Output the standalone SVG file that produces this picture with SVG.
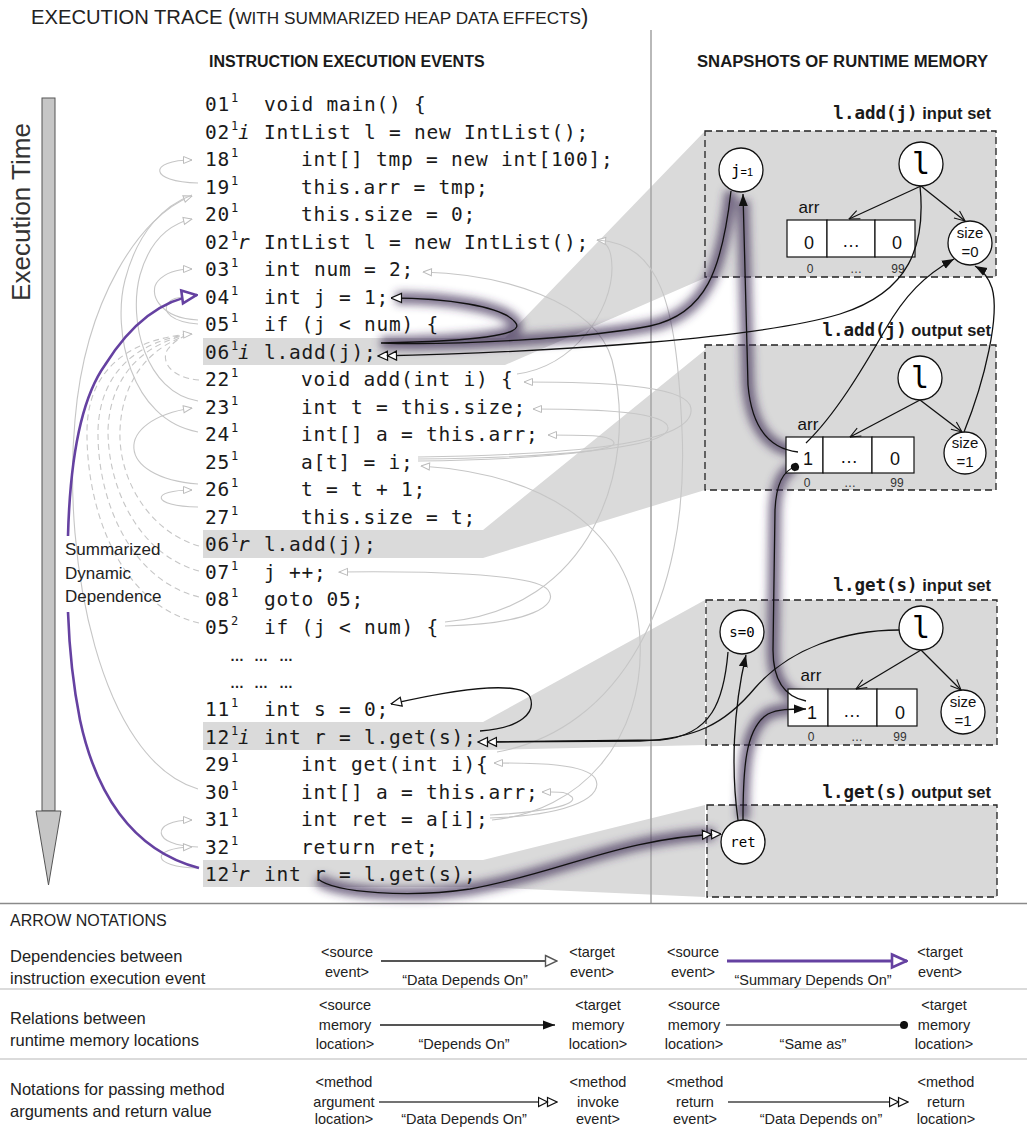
<svg xmlns="http://www.w3.org/2000/svg" width="1027" height="1129" viewBox="0 0 1027 1129">
<style>
.code{font-family:"DejaVu Sans Mono","Liberation Mono",monospace;font-size:19.5px;letter-spacing:0.76px;fill:#1a1a1a}
.sup{font-family:"DejaVu Sans Mono",monospace;font-size:12px;fill:#1a1a1a}
.suf{font-family:"DejaVu Sans Mono",monospace;font-size:19.5px;font-style:italic;fill:#1a1a1a}
.garc{fill:none;stroke:#c6c6c6;stroke-width:1.1}
.gdash{fill:none;stroke:#c6c6c6;stroke-width:1.1;stroke-dasharray:6 4}
.blk{fill:none;stroke:#111;stroke-width:1.3}
.glow{fill:none;stroke:#3f2d57;stroke-width:12;stroke-opacity:0.7}
.wedge{fill:#dadada}
.box{fill:#d9d9d9;stroke:#222;stroke-width:1.3;stroke-dasharray:7 4}
.node{fill:#fff;stroke:#111;stroke-width:1.3}
.cell{fill:#fff;stroke:#111;stroke-width:1.2}
.lbl{font-family:"Liberation Sans",Arial,sans-serif;font-weight:bold;font-size:16.5px;fill:#1a1a1a}
.lblm{font-family:"DejaVu Sans Mono",monospace;font-weight:bold;font-size:17.5px}
.val{font-family:"Liberation Sans",Arial,sans-serif;font-size:18px;fill:#111;text-anchor:middle}
.idx{font-family:"Liberation Sans",Arial,sans-serif;font-size:12px;fill:#333;text-anchor:middle}
.arr{font-family:"Liberation Sans",Arial,sans-serif;font-size:17px;fill:#111;text-anchor:middle}
.sz{font-family:"Liberation Sans",Arial,sans-serif;font-size:15px;fill:#111;text-anchor:middle}
.leg{font-family:"Liberation Sans",Arial,sans-serif;font-size:14.5px;fill:#222;text-anchor:middle}
.legl{font-family:"Liberation Sans",Arial,sans-serif;font-size:16.5px;fill:#222}
.sans{font-family:"Liberation Sans",Arial,sans-serif}
</style>
<defs>
<filter id="blur" filterUnits="userSpaceOnUse" x="0" y="0" width="1027" height="1129"><feGaussianBlur stdDeviation="4"/></filter>
<marker id="gTri" viewBox="0 0 10 10" refX="9.5" refY="5" markerWidth="10" markerHeight="10" orient="auto" markerUnits="userSpaceOnUse"><path d="M1,1.5 L9.5,5 L1,8.5 z" fill="#fff" stroke="#bcbcbc" stroke-width="1"/></marker>
<marker id="bTri" viewBox="0 0 12 12" refX="11.5" refY="6" markerWidth="12" markerHeight="12" orient="auto" markerUnits="userSpaceOnUse"><path d="M1,1.5 L11.5,6 L1,10.5 z" fill="#fff" stroke="#111" stroke-width="1.2"/></marker>
<marker id="dTri" viewBox="0 0 20 12" refX="19.5" refY="6" markerWidth="20" markerHeight="12" orient="auto" markerUnits="userSpaceOnUse"><path d="M1,1.5 L10,6 L1,10.5 z M10,1.5 L19.5,6 L10,10.5 z" fill="#fff" stroke="#111" stroke-width="1.2"/></marker>
<marker id="fTri" viewBox="0 0 12 10" refX="12" refY="5" markerWidth="12" markerHeight="10" orient="auto" markerUnits="userSpaceOnUse"><path d="M0,0.5 L12,5 L0,9.5 z" fill="#111"/></marker>
<marker id="vHead" viewBox="0 0 12 12" refX="11.5" refY="6" markerWidth="12" markerHeight="12" orient="auto" markerUnits="userSpaceOnUse"><path d="M1,1.5 L11.5,6 L1,10.5" fill="none" stroke="#111" stroke-width="1.1"/></marker>
<marker id="dot" viewBox="0 0 10 10" refX="5" refY="5" markerWidth="9" markerHeight="9" orient="auto" markerUnits="userSpaceOnUse"><circle cx="5" cy="5" r="4.5" fill="#111"/></marker>
<marker id="pTri" viewBox="0 0 18 18" refX="17" refY="9" markerWidth="18" markerHeight="18" orient="auto" markerUnits="userSpaceOnUse"><path d="M2,2.5 L16.5,9 L2,15.5 z" fill="#fff" stroke="#6541a1" stroke-width="2.6" stroke-linejoin="miter"/></marker>
<marker id="lTri" viewBox="0 0 14 14" refX="13" refY="7" markerWidth="14" markerHeight="14" orient="auto" markerUnits="userSpaceOnUse"><path d="M1.5,1.5 L13,7 L1.5,12.5 z" fill="#fff" stroke="#555" stroke-width="1.4"/></marker>
</defs>

<rect x="0" y="0" width="1027" height="1129" fill="#fff"/>

<!-- title -->
<g id="title">
<text class="sans" x="31" y="24" fill="#222"><tspan font-size="20.2">EXECUTION TRACE </tspan><tspan font-size="22">(</tspan><tspan font-size="17.2">WITH SUMMARIZED HEAP DATA EFFECTS</tspan><tspan font-size="22">)</tspan></text>
</g>
<g id="headers" class="sans" font-weight="bold" font-size="16" fill="#1a1a1a">
<text x="209" y="67">INSTRUCTION EXECUTION EVENTS</text>
<text x="697" y="67" textLength="291" lengthAdjust="spacingAndGlyphs">SNAPSHOTS OF RUNTIME MEMORY</text>
</g>

<!-- highlight projections -->
<g id="highlights">
<polygon class="wedge" points="203,338 505,338 705,131 705,278 505,365 203,365"/>
<polygon class="wedge" points="203,530 483,530 705,350 705,490 483,558 203,558"/>
<polygon class="wedge" points="203,722 483,722 705,600 705,745 483,750 203,750"/>
<polygon class="wedge" points="203,860 483,860 705,805 705,897 483,887 203,887"/>
</g>

<!-- frame lines -->
<g id="frame" fill="none">
<line x1="651" y1="30" x2="651" y2="903" stroke="#a8a8a8" stroke-width="1.6"/>
<line x1="0" y1="903.5" x2="1027" y2="903.5" stroke="#8a8a8a" stroke-width="1.5"/>
<line x1="0" y1="989" x2="1027" y2="989" stroke="#cfcfcf" stroke-width="1.5"/>
<line x1="0" y1="1059" x2="1027" y2="1059" stroke="#cfcfcf" stroke-width="1.5"/>
</g>

<!-- execution time axis -->
<g id="exec-time">
<rect x="42" y="98" width="13" height="713" fill="#c6c6c6" stroke="#555" stroke-width="1"/>
<polygon points="36,811 61,811 48.5,885" fill="#c6c6c6" stroke="#555" stroke-width="1"/>
<text class="sans" transform="translate(30,212) rotate(-90)" text-anchor="middle" font-size="26" fill="#333">Execution Time</text>
</g>

<!-- memory boxes -->
<g id="box-add-in"><rect class="box" x="705" y="131" width="291" height="146"/>
<text class="lbl" x="991" y="119" text-anchor="end"><tspan class="lblm">l.add(j)</tspan> input set</text></g>
<g id="box-add-out"><rect class="box" x="705" y="345" width="291" height="145"/>
<text class="lbl" x="991" y="336" text-anchor="end"><tspan class="lblm">l.add(j)</tspan> output set</text></g>
<g id="box-get-in"><rect class="box" x="706" y="600" width="291" height="145"/>
<text class="lbl" x="991" y="591" text-anchor="end"><tspan class="lblm">l.get(s)</tspan> input set</text></g>
<g id="box-get-out"><rect class="box" x="707" y="805" width="290" height="92"/>
<text class="lbl" x="991" y="798" text-anchor="end"><tspan class="lblm">l.get(s)</tspan> output set</text></g>

<!-- light gray dependence arcs -->
<g id="gray-arcs">
<path class="garc" d="M198,183 C148,182 148,160 192,160" marker-end="url(#gTri)"/>
<path class="garc" d="M198,789 C100,760 62,560 75,420 C85,300 140,215 192,196" marker-end="url(#gTri)"/>
<path class="garc" d="M198,432 C130,420 112,330 125,280 C138,230 165,205 192,195"/>
<path class="garc" d="M198,401 C145,392 128,320 140,275 C150,240 170,224 192,219" marker-end="url(#gTri)"/>
<path class="garc" d="M198,320 C158,318 148,292 158,281 C166,272 178,269 192,269" marker-end="url(#gTri)"/>
<path class="garc" d="M198,324 C172,322 162,312 168,303 C172,298 178,297 186,297"/>
<path class="garc" d="M198,484 C115,478 112,420 192,408" marker-end="url(#gTri)"/>
<path class="garc" d="M198,507 C150,506 150,490 192,490" marker-end="url(#gTri)"/>
<path class="garc" d="M198,847 C150,846 150,820 192,820" marker-end="url(#gTri)"/>
<path class="garc" d="M198,868 C150,867 150,848 192,847" marker-end="url(#gTri)"/>
<path class="gdash" d="M199,380 C170,378 160,360 168,349 C175,340 183,336 192,334"/>
<path class="gdash" d="M199,546 C150,532 118,480 120,430 C122,380 150,345 192,334"/>
<path class="gdash" d="M199,571 C140,555 108,490 108,430 C110,375 145,342 192,334"/>
<path class="gdash" d="M199,597 C130,580 97,500 98,430 C100,370 140,340 192,334"/>
<path class="gdash" d="M199,623 C120,605 86,510 87,430 C88,365 135,338 192,334" marker-end="url(#gTri)"/>
<path class="garc" d="M517,374 C575,366 612,310 612,268 C612,248 606,241 597,240" marker-end="url(#gTri)"/>
<path class="garc" d="M497,752 C620,730 690,600 682,430 C676,300 660,245 598,240"/>
<path class="garc" d="M418,457 C560,455 705,445 690,405 C680,385 600,382 524,382" marker-end="url(#gTri)"/>
<path class="garc" d="M418,459 C550,458 668,448 668,428 C668,412 600,409 533,409" marker-end="url(#gTri)"/>
<path class="garc" d="M418,461 C520,460 615,452 614,443 C612,435 590,435 548,435" marker-end="url(#gTri)"/>
<path class="garc" d="M492,820 C580,812 645,740 640,640 C635,540 560,475 421,466" marker-end="url(#gTri)"/>
<path class="garc" d="M445,626 C530,624 560,605 548,590 C535,573 420,571 339,572" marker-end="url(#gTri)"/>
<path class="garc" d="M445,622 C590,610 640,470 612,360 C595,300 500,274 423,272" marker-end="url(#gTri)"/>
<path class="garc" d="M490,818 C575,815 605,795 595,778 C585,764 540,763 494,763" marker-end="url(#gTri)"/>
<path class="garc" d="M490,815 C545,812 578,805 572,797 C566,791 560,792 542,792" marker-end="url(#gTri)"/>
</g>

<!-- glow under key dependence chains -->
<g id="glows" filter="url(#blur)">
<path class="glow" d="M731,191 C722,270 706,314 650,326 C590,338 450,346 381,343 C470,341 528,336 515,322 C502,306 445,298 396,298"/>
<path class="glow" d="M798,452 C772,449 752,432 748,385 L743,200"/>
<path class="glow" d="M806,701 C786,697 773,682 773,650 L775,510 C776,487 782,471 795,467"/>
<path class="glow" d="M743,820 C743,770 745,728 768,714 C778,709 790,709 800,709"/>
<path class="glow" d="M318,879 C335,893 410,898 470,889 C560,873 620,838 715,834"/>
</g>

<!-- summarized dynamic dependence -->
<g id="summary-dep">
<path d="M199,868 C130,850 95,790 80,720 C72,680 69,640 68,612" fill="none" stroke="#6541a1" stroke-width="2.6"/>
<path d="M68,536 C70,460 80,400 105,365 C130,325 160,300 197,295" fill="none" stroke="#6541a1" stroke-width="2.6" marker-end="url(#pTri)"/>
<text class="sans" font-size="17" fill="#222"><tspan x="65" y="555">Summarized</tspan><tspan x="65" y="579">Dynamic</tspan><tspan x="65" y="602">Dependence</tspan></text>
</g>

<!-- instruction execution events -->
<g id="ev-01"><text class="code" x="205" y="111">01</text><text class="sup" x="231" y="102">1</text><text class="code" x="264" y="111">void main() {</text></g>
<g id="ev-02i"><text class="code" x="205" y="138.5">02</text><text class="sup" x="231" y="129.5">1</text><text class="suf" x="238" y="138.5">i</text><text class="code" x="264" y="138.5">IntList l = new IntList();</text></g>
<g id="ev-18"><text class="code" x="205" y="166">18</text><text class="sup" x="231" y="157">1</text><text class="code" x="301" y="166">int[] tmp = new int[100];</text></g>
<g id="ev-19"><text class="code" x="205" y="193.5">19</text><text class="sup" x="231" y="184.5">1</text><text class="code" x="301" y="193.5">this.arr = tmp;</text></g>
<g id="ev-20"><text class="code" x="205" y="221">20</text><text class="sup" x="231" y="212">1</text><text class="code" x="301" y="221">this.size = 0;</text></g>
<g id="ev-02r"><text class="code" x="205" y="248.5">02</text><text class="sup" x="231" y="239.5">1</text><text class="suf" x="238" y="248.5">r</text><text class="code" x="264" y="248.5">IntList l = new IntList();</text></g>
<g id="ev-03"><text class="code" x="205" y="276">03</text><text class="sup" x="231" y="267">1</text><text class="code" x="264" y="276">int num = 2;</text></g>
<g id="ev-04"><text class="code" x="205" y="303.5">04</text><text class="sup" x="231" y="294.5">1</text><text class="code" x="264" y="303.5">int j = 1;</text></g>
<g id="ev-05"><text class="code" x="205" y="331">05</text><text class="sup" x="231" y="322">1</text><text class="code" x="264" y="331">if (j &lt; num) {</text></g>
<g id="ev-06i"><text class="code" x="205" y="358.5">06</text><text class="sup" x="231" y="349.5">1</text><text class="suf" x="238" y="358.5">i</text><text class="code" x="264" y="358.5">l.add(j);</text></g>
<g id="ev-22"><text class="code" x="205" y="386">22</text><text class="sup" x="231" y="377">1</text><text class="code" x="301" y="386">void add(int i) {</text></g>
<g id="ev-23"><text class="code" x="205" y="413.5">23</text><text class="sup" x="231" y="404.5">1</text><text class="code" x="301" y="413.5">int t = this.size;</text></g>
<g id="ev-24"><text class="code" x="205" y="441">24</text><text class="sup" x="231" y="432">1</text><text class="code" x="301" y="441">int[] a = this.arr;</text></g>
<g id="ev-25"><text class="code" x="205" y="468.5">25</text><text class="sup" x="231" y="459.5">1</text><text class="code" x="301" y="468.5">a[t] = i;</text></g>
<g id="ev-26"><text class="code" x="205" y="496">26</text><text class="sup" x="231" y="487">1</text><text class="code" x="301" y="496">t = t + 1;</text></g>
<g id="ev-27"><text class="code" x="205" y="523.5">27</text><text class="sup" x="231" y="514.5">1</text><text class="code" x="301" y="523.5">this.size = t;</text></g>
<g id="ev-06r"><text class="code" x="205" y="551">06</text><text class="sup" x="231" y="542">1</text><text class="suf" x="238" y="551">r</text><text class="code" x="264" y="551">l.add(j);</text></g>
<g id="ev-07"><text class="code" x="205" y="578.5">07</text><text class="sup" x="231" y="569.5">1</text><text class="code" x="264" y="578.5">j ++;</text></g>
<g id="ev-08"><text class="code" x="205" y="606">08</text><text class="sup" x="231" y="597">1</text><text class="code" x="264" y="606">goto 05;</text></g>
<g id="ev-05b"><text class="code" x="205" y="633.5">05</text><text class="sup" x="231" y="624.5">2</text><text class="code" x="264" y="633.5">if (j &lt; num) {</text></g>
<g id="ev-gap" class="sans" font-size="14" font-weight="bold" fill="#222"><text x="230" y="661">…</text><text x="254" y="661">…</text><text x="279" y="661">…</text><text x="230" y="688">…</text><text x="254" y="688">…</text><text x="279" y="688">…</text></g>
<g id="ev-11"><text class="code" x="205" y="716">11</text><text class="sup" x="231" y="707">1</text><text class="code" x="264" y="716">int s = 0;</text></g>
<g id="ev-12i"><text class="code" x="205" y="743.5">12</text><text class="sup" x="231" y="734.5">1</text><text class="suf" x="238" y="743.5">i</text><text class="code" x="264" y="743.5">int r = l.get(s);</text></g>
<g id="ev-29"><text class="code" x="205" y="771">29</text><text class="sup" x="231" y="762">1</text><text class="code" x="301" y="771">int get(int i){</text></g>
<g id="ev-30"><text class="code" x="205" y="798.5">30</text><text class="sup" x="231" y="789.5">1</text><text class="code" x="301" y="798.5">int[] a = this.arr;</text></g>
<g id="ev-31"><text class="code" x="205" y="826">31</text><text class="sup" x="231" y="817">1</text><text class="code" x="301" y="826">int ret = a[i];</text></g>
<g id="ev-32"><text class="code" x="205" y="853.5">32</text><text class="sup" x="231" y="844.5">1</text><text class="code" x="301" y="853.5">return ret;</text></g>
<g id="ev-12r"><text class="code" x="205" y="881">12</text><text class="sup" x="231" y="872">1</text><text class="suf" x="238" y="881">r</text><text class="code" x="264" y="881">int r = l.get(s);</text></g>

<!-- memory locations -->
<g id="add-in-j"><circle class="node" cx="741" cy="170" r="22"/><text x="742" y="176" text-anchor="middle"><tspan font-family="DejaVu Sans Mono,monospace" font-size="16">j</tspan><tspan class="sans" font-size="11">=1</tspan></text></g>
<g id="add-in-l"><circle class="node" cx="921" cy="164" r="22"/><text x="921" y="174" text-anchor="middle" font-family="DejaVu Sans Mono,monospace" font-size="30">l</text></g>
<g id="add-in-arr"><text class="arr" x="809" y="213">arr</text>
<rect class="cell" x="787" y="220" width="40" height="37"/><rect class="cell" x="827" y="220" width="48" height="37"/><rect class="cell" x="875" y="220" width="40" height="37"/>
<text class="val" x="809" y="249">0</text><text class="val" x="851" y="247">…</text><text class="val" x="897" y="249">0</text>
<text class="idx" x="810" y="273">0</text><text class="idx" x="856" y="273">…</text><text class="idx" x="898" y="273">99</text></g>
<g id="add-in-size"><circle class="node" cx="970" cy="243" r="22"/><text class="sz" x="970" y="238">size</text><text class="sz" x="970" y="257">=0</text></g>

<g id="add-out-l"><circle class="node" cx="920" cy="378" r="22"/><text x="920" y="388" text-anchor="middle" font-family="DejaVu Sans Mono,monospace" font-size="30">l</text></g>
<g id="add-out-arr"><text class="arr" x="808" y="430">arr</text>
<rect class="cell" x="786" y="437" width="37" height="36"/><rect class="cell" x="823" y="437" width="49" height="36"/><rect class="cell" x="872" y="437" width="42" height="36"/>
<text class="val" x="808" y="465">1</text><text class="val" x="849" y="463">…</text><text class="val" x="895" y="465">0</text>
<text class="idx" x="807" y="487">0</text><text class="idx" x="850" y="487">…</text><text class="idx" x="897" y="487">99</text></g>
<g id="add-out-size"><circle class="node" cx="965" cy="453" r="21"/><text class="sz" x="965" y="448">size</text><text class="sz" x="965" y="467">=1</text></g>

<g id="get-in-s"><circle class="node" cx="742" cy="632" r="22"/><text x="742" y="637" text-anchor="middle" font-family="DejaVu Sans Mono,monospace" font-size="14">s=0</text></g>
<g id="get-in-l"><circle class="node" cx="921" cy="628" r="22"/><text x="921" y="638" text-anchor="middle" font-family="DejaVu Sans Mono,monospace" font-size="30">l</text></g>
<g id="get-in-arr"><text class="arr" x="811" y="681">arr</text>
<rect class="cell" x="788" y="689" width="40" height="37"/><rect class="cell" x="828" y="689" width="49" height="37"/><rect class="cell" x="877" y="689" width="40" height="37"/>
<text class="val" x="812" y="719">1</text><text class="val" x="852" y="717">…</text><text class="val" x="900" y="719">0</text>
<text class="idx" x="811" y="741">0</text><text class="idx" x="857" y="741">…</text><text class="idx" x="900" y="741">99</text></g>
<g id="get-in-size"><circle class="node" cx="963" cy="712" r="22"/><text class="sz" x="963" y="707">size</text><text class="sz" x="963" y="726">=1</text></g>

<g id="get-out-ret"><circle class="node" cx="743" cy="842" r="22"/><text x="743" y="847" text-anchor="middle" font-family="DejaVu Sans Mono,monospace" font-size="14">ret</text></g>

<!-- dependence connectors -->
<g id="connectors">
<path class="blk" d="M921,186 L849,219" marker-end="url(#vHead)"/>
<path class="blk" d="M921,186 L965,221" marker-end="url(#vHead)"/>
<path class="blk" d="M920,400 L850,437" marker-end="url(#vHead)"/>
<path class="blk" d="M920,400 L962,432" marker-end="url(#vHead)"/>
<path class="blk" d="M921,650 L856,689" marker-end="url(#vHead)"/>
<path class="blk" d="M921,650 L961,690" marker-end="url(#vHead)"/>
<path class="blk" d="M731,191 C722,270 706,314 650,326 C590,338 450,346 381,343 C470,341 528,336 515,322 C502,306 445,298 391,298" marker-end="url(#bTri)"/>
<path class="blk" d="M920,186 C926,245 910,292 840,314 C760,338 560,352 378,356" marker-end="url(#dTri)"/>
<path class="blk" d="M798,452 C772,449 752,432 748,385 L743,194" marker-end="url(#fTri)"/>
<path class="blk" d="M806,443 C835,415 862,370 885,330 C905,295 925,275 954,259" marker-end="url(#fTri)"/>
<path class="blk" d="M964,432 C985,380 1000,315 992,288 C988,276 982,270 975,266" marker-end="url(#fTri)"/>
<path class="blk" d="M806,701 C786,697 773,682 773,650 L775,510 C776,487 782,471 795,467" marker-end="url(#dot)"/>
<path class="blk" d="M728,652 C724,700 712,736 660,740 L480,742"/>
<path class="blk" d="M899,630 C845,630 790,648 755,688 C725,724 695,739 640,741 L478,742" marker-end="url(#dTri)"/>
<path class="blk" d="M480,731 C522,728 536,712 530,697 C522,682 470,686 391,704" marker-end="url(#bTri)"/>
<path class="blk" d="M743,820 C743,770 745,728 768,714 C778,709 790,709 806,709" marker-end="url(#fTri)"/>
<path class="blk" d="M738,820 C731,770 733,710 746,655" marker-end="url(#fTri)"/>
<path class="blk" d="M318,879 C335,893 410,898 470,889 C560,873 620,838 721,834" marker-end="url(#dTri)"/>
</g>

<!-- arrow notations legend -->
<g id="legend">
<text class="sans" x="10" y="926" font-size="16" fill="#222">ARROW NOTATIONS</text>
<text class="legl"><tspan x="10" y="962">Dependencies between</tspan><tspan x="10" y="984">instruction execution event</tspan></text>
<text class="legl"><tspan x="10" y="1024">Relations between</tspan><tspan x="10" y="1046">runtime memory locations</tspan></text>
<text class="legl"><tspan x="10" y="1095">Notations for passing method</tspan><tspan x="10" y="1117">arguments and return value</tspan></text>

<text class="leg"><tspan x="347" y="957">&lt;source</tspan><tspan x="347" y="977">event&gt;</tspan></text>
<path d="M381,961 L557,961" stroke="#555" stroke-width="2" fill="none" marker-end="url(#lTri)"/>
<text class="leg" x="465" y="985">“Data Depends On”</text>
<text class="leg"><tspan x="592" y="957">&lt;target</tspan><tspan x="592" y="977">event&gt;</tspan></text>

<text class="leg"><tspan x="693" y="957">&lt;source</tspan><tspan x="693" y="977">event&gt;</tspan></text>
<path d="M727,961 L907,961" stroke="#6541a1" stroke-width="3" fill="none" marker-end="url(#pTri)"/>
<text class="leg" x="813" y="985">“Summary Depends On”</text>
<text class="leg"><tspan x="940" y="957">&lt;target</tspan><tspan x="940" y="977">event&gt;</tspan></text>

<text class="leg"><tspan x="345" y="1010">&lt;source</tspan><tspan x="345" y="1030">memory</tspan><tspan x="345" y="1049">location&gt;</tspan></text>
<path d="M380,1025 L555,1025" stroke="#555" stroke-width="2" fill="none" marker-end="url(#fTri)"/>
<text class="leg" x="464" y="1049">“Depends On”</text>
<text class="leg"><tspan x="598" y="1010">&lt;target</tspan><tspan x="598" y="1030">memory</tspan><tspan x="598" y="1049">location&gt;</tspan></text>

<text class="leg"><tspan x="694" y="1010">&lt;source</tspan><tspan x="694" y="1030">memory</tspan><tspan x="694" y="1049">location&gt;</tspan></text>
<path d="M726,1025 L904,1025" stroke="#555" stroke-width="1.5" fill="none" marker-end="url(#dot)"/>
<text class="leg" x="813" y="1049">“Same as”</text>
<text class="leg"><tspan x="944" y="1010">&lt;target</tspan><tspan x="944" y="1030">memory</tspan><tspan x="944" y="1049">location&gt;</tspan></text>

<text class="leg"><tspan x="344" y="1087">&lt;method</tspan><tspan x="344" y="1107">argument</tspan><tspan x="344" y="1124">location&gt;</tspan></text>
<path d="M379,1102 L557,1102" stroke="#444" stroke-width="1.5" fill="none" marker-end="url(#dTri)"/>
<text class="leg" x="464" y="1124">“Data Depends On”</text>
<text class="leg"><tspan x="598" y="1087">&lt;method</tspan><tspan x="598" y="1107">invoke</tspan><tspan x="598" y="1124">event&gt;</tspan></text>

<text class="leg"><tspan x="695" y="1087">&lt;method</tspan><tspan x="695" y="1107">return</tspan><tspan x="695" y="1124">event&gt;</tspan></text>
<path d="M728,1102 L908,1102" stroke="#444" stroke-width="1.5" fill="none" marker-end="url(#dTri)"/>
<text class="leg" x="821" y="1124">“Data Depends on”</text>
<text class="leg"><tspan x="946" y="1087">&lt;method</tspan><tspan x="946" y="1107">return</tspan><tspan x="946" y="1124">location&gt;</tspan></text>
</g>
</svg>
